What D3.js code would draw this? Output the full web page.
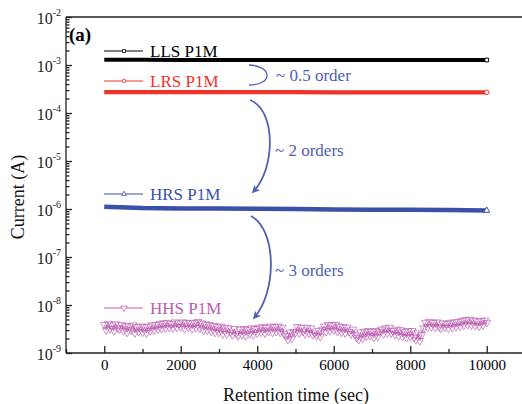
<!DOCTYPE html>
<html><head><meta charset="utf-8">
<script src="https://cdn.jsdelivr.net/npm/d3@7"></script>
<style>
html,body{margin:0;padding:0;background:#fff;}
svg{display:block;}
svg text{font-family:'Liberation Serif','DejaVu Serif','Times New Roman',Times,serif !important;}
</style></head>
<body><svg id="c" width="522" height="404"></svg>
<script>
// ---- data ----
const seriesNames = ["LLS P1M", "LRS P1M", "HRS P1M", "HHS P1M"];
const thickTimes = [0, 1000, 2000, 3000, 4000, 5000, 6000, 7000, 8000, 9000, 10000];
const llsValues = [1.28e-3, 1.28e-3, 1.27e-3, 1.27e-3, 1.27e-3, 1.27e-3, 1.27e-3, 1.27e-3, 1.27e-3, 1.27e-3, 1.27e-3];
const lrsValues = [2.72e-4, 2.72e-4, 2.71e-4, 2.71e-4, 2.71e-4, 2.71e-4, 2.70e-4, 2.70e-4, 2.70e-4, 2.70e-4, 2.70e-4];
const hrsValues = [1.12e-6, 1.05e-6, 1.03e-6, 1.02e-6, 1.01e-6, 1.00e-6, 0.98e-6, 0.97e-6, 0.96e-6, 0.95e-6, 0.93e-6];
// HHS in units of 1e-9 A, every 50 s from 0 to 10000
const hhsValues = [
 3.9,3.0,4.1,3.2,3.8,2.9,4.0,3.3,3.1,3.9,
 2.9,3.7,2.7,3.6,3.0,3.8,2.6,3.5,2.8,3.6,
 2.7,3.5,2.6,3.6,2.9,3.8,3.0,3.9,3.1,4.1,
 3.2,4.2,3.3,4.3,3.4,4.1,3.3,4.4,3.4,4.2,
 3.5,4.4,3.2,4.3,3.4,4.2,3.2,4.3,3.4,4.5,
 3.3,4.2,3.0,4.0,3.0,3.9,2.8,3.7,2.7,3.5,
 2.7,3.6,2.5,3.4,2.5,3.3,2.7,2.4,3.2,2.5,
 2.3,3.1,2.4,3.2,2.3,3.1,2.5,3.3,2.4,3.2,
 2.6,3.4,2.7,3.5,2.6,3.4,2.8,3.6,2.7,3.5,
 2.8,3.6,2.7,3.4,2.5,2.3,1.9,2.7,2.0,2.8,
 2.7,3.5,2.6,3.4,2.8,2.5,3.4,2.6,3.3,2.4,
 2.6,2.3,2.9,2.2,3.1,3.6,2.8,3.9,2.9,3.8,
 3.0,3.9,2.8,3.6,2.7,3.5,2.6,3.4,2.8,2.5,
 3.1,2.4,2.1,1.9,2.7,2.0,2.8,2.2,2.9,2.3,
 2.8,2.1,2.9,2.2,2.8,3.1,2.5,3.3,2.6,3.4,
 2.6,2.9,2.4,3.1,2.3,3.0,2.2,2.8,2.1,2.9,
 2.2,2.9,2.1,1.9,2.6,1.8,2.4,3.3,4.3,3.5,
 4.5,3.5,4.3,3.4,4.4,3.5,3.3,4.2,3.4,4.1,
 3.3,4.3,3.4,4.4,3.5,4.5,3.6,4.7,3.8,4.9,
 3.9,5.0,3.8,4.8,3.7,4.6,3.6,4.7,3.8,4.8,
 4.3
];
const hhsStep = 50;
const xTicks = [0, 2000, 4000, 6000, 8000, 10000];
const yExponents = [-2, -3, -4, -5, -6, -7, -8, -9];
const annotations = ["~ 0.5 order", "~ 2 orders", "~ 3 orders"];

// ---- scales ----
const FONT = "'Liberation Serif','DejaVu Serif','Times New Roman',Times,serif";
const svg = d3.select("#c");
const x = d3.scaleLinear().domain([-1000, 11000]).range([66, 525]);
const y = d3.scaleLog().domain([1e-9, 1e-2]).range([353, 17]);

const cBlack = "#000", cRed = "#ee3328", cBlue = "#3b50a8", cPink = "#bb5cb0", cAnn = "#5060b4";

// ---- axes ----
const xMinor = d3.range(-1000, 11001, 1000).filter(v => v % 2000 !== 0);
const xAxis = d3.axisBottom(x).tickValues(xTicks).tickSize(-7).tickPadding(12).tickFormat(d3.format("d"));
const gx = svg.append("g").attr("transform", "translate(0,353)").call(xAxis);
svg.append("g").attr("transform", "translate(0,353)")
  .call(d3.axisBottom(x).tickValues(xMinor).tickSize(-4).tickFormat(""))
  .call(g => g.select(".domain").remove());
gx.select(".domain").attr("d", "M66,0H522");
gx.selectAll("text").attr("font-size", 15).attr("fill", "#000").attr("dy", "0.3em");

const yMajor = yExponents.map(e => Math.pow(10, e));
const yMinor = [];
for (let e = -9; e < -2; e++) for (let m = 2; m <= 9; m++) yMinor.push(m * Math.pow(10, e));
const gy = svg.append("g").attr("transform", "translate(66,0)")
  .call(d3.axisLeft(y).tickValues(yMajor).tickSize(-6).tickFormat(""));
gy.select(".domain").attr("d", "M0,17V353");
svg.append("g").attr("transform", "translate(66,0)")
  .call(d3.axisLeft(y).tickValues(yMinor).tickSize(-3.5).tickFormat(""))
  .call(g => g.select(".domain").remove());
svg.selectAll(".domain, .tick line").attr("stroke", "#222").attr("stroke-width", 1.3);

// top frame line
svg.append("line").attr("x1", 66).attr("x2", 522).attr("y1", y(1e-2)).attr("y2", y(1e-2))
  .attr("stroke", "#222").attr("stroke-width", 1.3);

// y tick labels 10^n
yExponents.forEach(e => {
  const t = svg.append("text").attr("x", 61).attr("y", y(Math.pow(10, e)) + 7)
    .attr("text-anchor", "end").attr("font-size", 16).attr("fill", "#222");
  t.append("tspan").text("10");
  t.append("tspan").attr("dy", -8).attr("font-size", 10).text(String(e));
});

// axis titles
svg.append("text").attr("transform", "translate(24,197) rotate(-90)").attr("text-anchor", "middle")
  .attr("font-size", 18).attr("fill", "#111").text("Current (A)");
svg.append("text").attr("x", 296).attr("y", 401).attr("text-anchor", "middle")
  .attr("font-size", 18).attr("fill", "#111").text("Retention time (sec)");
svg.append("text").attr("x", 69).attr("y", 41).attr("font-size", 19).attr("font-weight", "bold").text("(a)");

// ---- marker shapes ----
const shapes = {
  square: d3.symbol().type(d3.symbolSquare).size(14),
  circle: d3.symbol().type(d3.symbolCircle).size(16),
  tri: d3.symbol().type(d3.symbolTriangle).size(16),
  triDown: d3.symbol().type(d3.symbolTriangle).size(26)
};

// ---- thick series ----
const line = d3.line().x(d => x(d[0])).y(d => y(d[1]));
const thick = [
  {vals: llsValues, color: cBlack, w: 4, shape: "square"},
  {vals: lrsValues, color: cRed, w: 4.2, shape: "circle"},
  {vals: hrsValues, color: cBlue, w: 4.5, shape: "tri"}
];
thick.forEach(s => {
  const pts = thickTimes.map((t, i) => [t, s.vals[i]]);
  svg.append("path").attr("d", line(pts)).attr("fill", "none").attr("stroke", s.color).attr("stroke-width", s.w);
  const last = pts[pts.length - 1];
  svg.append("path").attr("d", shapes[s.shape]()).attr("transform", `translate(${x(last[0])},${y(last[1])})`)
    .attr("fill", "#fff").attr("stroke", s.color).attr("stroke-width", 1);
});

// ---- HHS noisy series ----
const hhsPts = hhsValues.map((v, i) => [i * hhsStep, v * 1e-9]);
svg.append("path").attr("d", line(hhsPts)).attr("fill", "none").attr("stroke", cPink).attr("stroke-width", 0.8);
svg.append("g").selectAll("path").data(hhsPts).join("path")
  .attr("d", shapes.triDown())
  .attr("transform", d => `translate(${x(d[0])},${y(d[1])}) rotate(180)`)
  .attr("fill", "none").attr("stroke", cPink).attr("stroke-width", 0.8).attr("opacity", 0.85);

// ---- legends ----
const legends = [
  {name: seriesNames[0], color: cBlack, ly: 51, shape: "square", rot: 0},
  {name: seriesNames[1], color: cRed, ly: 81, shape: "circle", rot: 0},
  {name: seriesNames[2], color: cBlue, ly: 194, shape: "tri", rot: 0},
  {name: seriesNames[3], color: cPink, ly: 308, shape: "triDown", rot: 180}
];
legends.forEach(l => {
  svg.append("line").attr("x1", 104).attr("x2", 143).attr("y1", l.ly).attr("y2", l.ly)
    .attr("stroke", l.color).attr("stroke-width", 1);
  svg.append("path").attr("d", shapes[l.shape]()).attr("transform", `translate(124,${l.ly}) rotate(${l.rot}) scale(0.8)`)
    .attr("fill", "#fff").attr("stroke", l.color).attr("stroke-width", 1);
  svg.append("text").attr("x", 150).attr("y", l.ly + 6).attr("font-size", 17).attr("fill", l.color).text(l.name);
});

// ---- annotations ----
const defs = svg.append("defs");
defs.append("marker").attr("id", "ah").attr("viewBox", "0 0 10 10").attr("refX", 8).attr("refY", 5)
  .attr("markerWidth", 4.5).attr("markerHeight", 4.5).attr("orient", "auto")
  .append("path").attr("d", "M0,0L10,5L0,10L3,5Z").attr("fill", cAnn);
svg.append("path").attr("d", "M249,65 C273,66 273,85 249,85").attr("fill", "none")
  .attr("stroke", cAnn).attr("stroke-width", 1.3);
svg.append("path").attr("d", "M250,100 C276,110 276,168 253,192").attr("fill", "none")
  .attr("stroke", cAnn).attr("stroke-width", 1.8).attr("marker-end", "url(#ah)");
svg.append("path").attr("d", "M251,216 C277,230 277,292 254,318").attr("fill", "none")
  .attr("stroke", cAnn).attr("stroke-width", 1.8).attr("marker-end", "url(#ah)");
[[276, 81], [275, 156], [275, 276]].forEach((p, i) => {
  svg.append("text").attr("x", p[0]).attr("y", p[1]).attr("font-size", 17).attr("fill", cAnn).text(annotations[i]);
});

// serif font everywhere
svg.selectAll("text").attr("font-family", FONT);
svg.selectAll("g").attr("font-family", FONT);
</script></body></html>
